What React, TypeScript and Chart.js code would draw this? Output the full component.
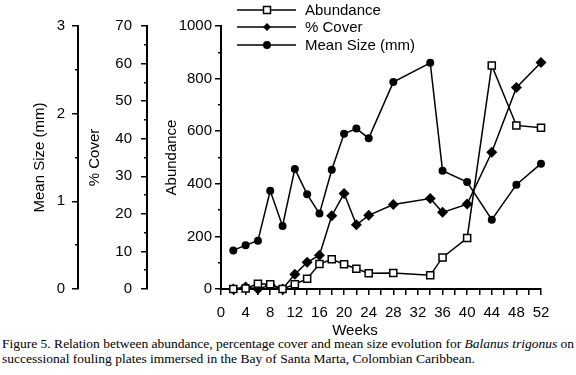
import React, { useEffect, useRef } from 'react';
import { Chart, registerables } from 'chart.js';

Chart.register(...registerables);

// ---- data ----
const weeks = [2, 4, 6, 8, 10, 12, 14, 16, 18, 20, 22, 24, 28, 34, 36, 40, 44, 48, 52];
const abundance = [0, 2, 20, 18, 0, 18, 39, 95, 113, 94, 77, 60, 61, 52, 120, 194, 850, 622, 613];
const coverPct = [0, 0.5, 0, 1, 0, 3.9, 7.1, 9.0, 19.5, 25.4, 17.1, 19.6, 22.5, 24.1, 20.4, 22.6, 36.4, 53.6, 60.3];
const meanSizeMm = [0.44, 0.5, 0.55, 1.12, 0.72, 1.37, 1.08, 0.86, 1.36, 1.77, 1.83, 1.72, 2.36, 2.58, 1.35, 1.22, 0.79, 1.19, 1.43];

const seriesLabels = ['Abundance', '% Cover', 'Mean Size (mm)'];
const axisTitles = ['Mean Size (mm)', '% Cover', 'Abundance'];
const xTitle = 'Weeks';
const captionStart = 'Figure 5. Relation between abundance, percentage cover and mean size evolution for ';
const captionSpecies = 'Balanus trigonus';
const captionEnd1 = ' on';
const captionLine2 = 'successional fouling plates immersed in the Bay of Santa Marta, Colombian Caribbean.';

const FONT = "'Liberation Sans', Arial, sans-serif";

function drawMarker(ctx: CanvasRenderingContext2D, style: string, x: number, y: number) {
  ctx.beginPath();
  if (style === 'rect') {
    ctx.rect(x - 3.5, y - 3.5, 7, 7);
    ctx.fillStyle = '#fff';
    ctx.fill();
    ctx.lineWidth = 1.5;
    ctx.stroke();
  } else if (style === 'rectRot') {
    ctx.moveTo(x - 4, y);
    ctx.lineTo(x, y + 4);
    ctx.lineTo(x + 4, y);
    ctx.lineTo(x, y - 4);
    ctx.closePath();
    ctx.fillStyle = '#000';
    ctx.fill();
  } else {
    ctx.arc(x, y, 4, 0, Math.PI * 2);
    ctx.fillStyle = '#000';
    ctx.fill();
  }
}

const overlayPlugin = {
  id: 'overlay',
  afterDraw(chart: any) {
    const ctx: CanvasRenderingContext2D = chart.ctx;
    ctx.save();
    const styles = ['rect', 'rectRot', 'circle'];
    const rowsY = [10, 27, 45];
    ctx.strokeStyle = '#000';
    ctx.font = `15px ${FONT}`;
    ctx.textBaseline = 'middle';
    ctx.textAlign = 'left';
    for (let i = 0; i < seriesLabels.length; i++) {
      const y = rowsY[i];
      ctx.beginPath();
      ctx.lineWidth = 1.5;
      ctx.moveTo(237, y);
      ctx.lineTo(296, y);
      ctx.stroke();
      drawMarker(ctx, styles[i], 267, y);
      ctx.fillStyle = '#000';
      ctx.fillText(seriesLabels[i], 305, y + 1);
    }
    ctx.textAlign = 'center';
    ctx.fillText(xTitle, 355, 331);
    ctx.restore();
  },
};

function isMajor(v: number, major: number) {
  return Math.abs(v / major - Math.round(v / major)) < 1e-6;
}

function yAxis(min: number, max: number, step: number, major: number, weight: number, width: number, title: string, titlePad: number, labelPad: number) {
  return {
    type: 'linear',
    position: 'left',
    min,
    max,
    weight,
    afterFit: (s: any) => {
      s.width = width;
    },
    border: { display: true, color: '#000', width: 2 },
    grid: {
      drawOnChartArea: false,
      drawTicks: true,
      tickLength: 6,
      color: '#000',
      lineWidth: 1.5,
      tickBorderDash: (ctx: any) => (ctx.tick && isMajor(ctx.tick.value, major) ? [] : [0, 3, 10, 100]),
    },
    ticks: {
      stepSize: step,
      autoSkip: false,
      padding: labelPad,
      color: '#000',
      font: { family: FONT, size: 15 },
      callback: (v: number) => (isMajor(v, major) ? String(v) : ''),
    },
    title: {
      display: true,
      text: title,
      color: '#000',
      font: { family: FONT, size: 15 },
      padding: { top: titlePad, bottom: 0 },
    },
  };
}

export default function App() {
  const ref = useRef<HTMLCanvasElement>(null);
  useEffect(() => {
    document.body.style.margin = '0';
    const common = {
      borderColor: '#000',
      borderWidth: 1.5,
      tension: 0,
      clip: false as any,
      pointBorderColor: '#000',
      pointBorderWidth: 1.5,
    };
    const chart = new Chart(ref.current as HTMLCanvasElement, {
      type: 'line',
      data: {
        datasets: [
          {
            ...common,
            label: seriesLabels[0],
            data: weeks.map((w, i) => ({ x: w, y: abundance[i] })),
            yAxisID: 'yA',
            pointStyle: 'rect',
            pointRadius: 5,
            pointBackgroundColor: '#fff',
          },
          {
            ...common,
            label: seriesLabels[1],
            data: weeks.map((w, i) => ({ x: w, y: coverPct[i] })),
            yAxisID: 'yC',
            pointStyle: 'rectRot',
            pointRadius: 5.5,
            pointBorderWidth: 0,
            pointBackgroundColor: '#000',
          },
          {
            ...common,
            label: seriesLabels[2],
            data: weeks.map((w, i) => ({ x: w, y: meanSizeMm[i] })),
            yAxisID: 'yS',
            pointStyle: 'circle',
            pointRadius: 4,
            pointBorderWidth: 0,
            pointBackgroundColor: '#000',
          },
        ],
      },
      options: {
        animation: false,
        responsive: false,
        layout: { padding: { top: 26, right: 35, left: 0, bottom: 0 } },
        plugins: { legend: { display: false }, tooltip: { enabled: false } },
        scales: {
          x: {
            type: 'linear',
            min: 0,
            max: 52,
            afterFit: (s: any) => {
              s.height = 46;
            },
            border: { display: true, color: '#000', width: 2 },
            grid: { drawOnChartArea: false, drawTicks: true, tickLength: 6, color: '#000', lineWidth: 1.5 },
            ticks: {
              stepSize: 2,
              autoSkip: false,
              maxRotation: 0,
              padding: 9,
              color: '#000',
              font: { family: FONT, size: 15 },
              callback: (v: number) => (v % 4 === 0 ? String(v) : ''),
            },
          },
          yA: yAxis(0, 1000, 100, 200, 0, 74, axisTitles[2], 16, 3),
          yC: yAxis(0, 70, 5, 10, 1, 69, axisTitles[1], 8, 9),
          yS: yAxis(0, 3, 0.5, 1, 2, 78, axisTitles[0], 31, 7),
        } as any,
      },
      plugins: [overlayPlugin],
    });
    return () => chart.destroy();
  }, []);

  return (
    <div style={{ position: 'absolute', left: 0, top: 0, width: 576, height: 375, background: '#fff' }}>
      <canvas ref={ref} width={576} height={335} style={{ display: 'block', width: 576, height: 335 }} />
      <div
        style={{
          position: 'absolute',
          left: 2,
          top: 336,
          fontFamily: "'Liberation Serif', 'Times New Roman', serif",
          fontSize: 13.5,
          lineHeight: '15px',
          whiteSpace: 'nowrap',
          color: '#000',
        }}
      >
        <div>
          {captionStart}
          <i>{captionSpecies}</i>
          {captionEnd1}
        </div>
        <div>{captionLine2}</div>
      </div>
    </div>
  );
}
